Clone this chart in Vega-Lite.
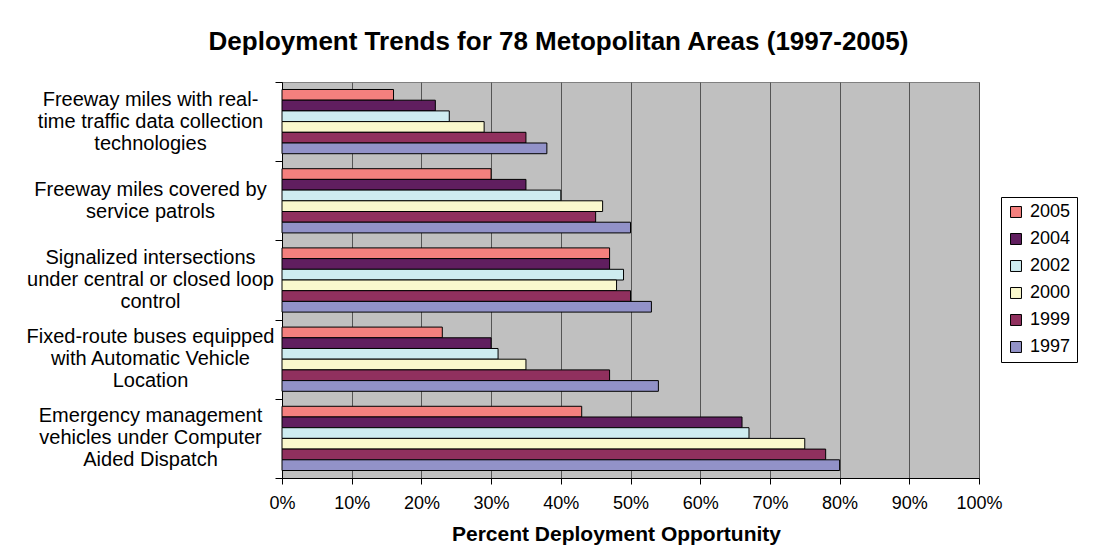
{
  "$schema": "https://vega.github.io/schema/vega-lite/v6.json",
  "width": 697,
  "height": 396,
  "autosize": {"type": "none"},
  "padding": {"left": 282, "top": 82, "right": 122, "bottom": 81},
  "background": "white",
  "title": {
    "text": "Deployment Trends for 78 Metopolitan Areas (1997-2005)",
    "font": "Liberation Sans",
    "fontSize": 26,
    "fontWeight": "bold",
    "color": "black",
    "anchor": "middle",
    "dx": -72,
    "offset": 27
  },
  "data": {
    "values": [
      {"category": "Freeway miles with real-time traffic data collection technologies", "year": "2005", "value": 16},
      {"category": "Freeway miles with real-time traffic data collection technologies", "year": "2004", "value": 22},
      {"category": "Freeway miles with real-time traffic data collection technologies", "year": "2002", "value": 24},
      {"category": "Freeway miles with real-time traffic data collection technologies", "year": "2000", "value": 29},
      {"category": "Freeway miles with real-time traffic data collection technologies", "year": "1999", "value": 35},
      {"category": "Freeway miles with real-time traffic data collection technologies", "year": "1997", "value": 38},
      {"category": "Freeway miles covered by service patrols", "year": "2005", "value": 30},
      {"category": "Freeway miles covered by service patrols", "year": "2004", "value": 35},
      {"category": "Freeway miles covered by service patrols", "year": "2002", "value": 40},
      {"category": "Freeway miles covered by service patrols", "year": "2000", "value": 46},
      {"category": "Freeway miles covered by service patrols", "year": "1999", "value": 45},
      {"category": "Freeway miles covered by service patrols", "year": "1997", "value": 50},
      {"category": "Signalized intersections under central or closed loop control", "year": "2005", "value": 47},
      {"category": "Signalized intersections under central or closed loop control", "year": "2004", "value": 47},
      {"category": "Signalized intersections under central or closed loop control", "year": "2002", "value": 49},
      {"category": "Signalized intersections under central or closed loop control", "year": "2000", "value": 48},
      {"category": "Signalized intersections under central or closed loop control", "year": "1999", "value": 50},
      {"category": "Signalized intersections under central or closed loop control", "year": "1997", "value": 53},
      {"category": "Fixed-route buses equipped with Automatic Vehicle Location", "year": "2005", "value": 23},
      {"category": "Fixed-route buses equipped with Automatic Vehicle Location", "year": "2004", "value": 30},
      {"category": "Fixed-route buses equipped with Automatic Vehicle Location", "year": "2002", "value": 31},
      {"category": "Fixed-route buses equipped with Automatic Vehicle Location", "year": "2000", "value": 35},
      {"category": "Fixed-route buses equipped with Automatic Vehicle Location", "year": "1999", "value": 47},
      {"category": "Fixed-route buses equipped with Automatic Vehicle Location", "year": "1997", "value": 54},
      {"category": "Emergency management vehicles under Computer Aided Dispatch", "year": "2005", "value": 43},
      {"category": "Emergency management vehicles under Computer Aided Dispatch", "year": "2004", "value": 66},
      {"category": "Emergency management vehicles under Computer Aided Dispatch", "year": "2002", "value": 67},
      {"category": "Emergency management vehicles under Computer Aided Dispatch", "year": "2000", "value": 75},
      {"category": "Emergency management vehicles under Computer Aided Dispatch", "year": "1999", "value": 78},
      {"category": "Emergency management vehicles under Computer Aided Dispatch", "year": "1997", "value": 80}
    ]
  },
  "layer": [
    {
      "mark": {"type": "bar", "opacity": 0},
      "encoding": {
        "y": {
          "field": "category",
          "type": "nominal",
          "sort": [
            "Freeway miles with real-time traffic data collection technologies",
            "Freeway miles covered by service patrols",
            "Signalized intersections under central or closed loop control",
            "Fixed-route buses equipped with Automatic Vehicle Location",
            "Emergency management vehicles under Computer Aided Dispatch"
          ],
          "scale": {"paddingInner": 0, "paddingOuter": 0},
          "axis": {
            "orient": "left",
            "title": null,
            "labels": false,
            "tickBand": "extent",
            "ticks": true,
            "tickSize": 7,
            "tickColor": "black",
            "domainColor": "black",
            "grid": false
          }
        },
        "x": {
          "field": "value",
          "type": "quantitative",
          "scale": {"domain": [0, 100]},
          "axis": {
            "title": "Percent Deployment Opportunity",
            "titleFont": "Liberation Sans",
            "titleFontSize": 21,
            "titleFontWeight": "bold",
            "titleColor": "black",
            "titlePadding": 11,
            "titleX": 334,
            "titleAlign": "center",
            "values": [0, 10, 20, 30, 40, 50, 60, 70, 80, 90, 100],
            "labelExpr": "datum.value + '%'",
            "labelFlush": false,
            "labelFont": "Liberation Sans",
            "labelFontSize": 18,
            "labelColor": "black",
            "labelPadding": 10,
            "tickSize": 6,
            "tickColor": "black",
            "domainColor": "black",
            "grid": true,
            "gridColor": "#555555",
            "gridWidth": 1
          }
        }
      }
    },
    {
      "mark": {"type": "bar", "stroke": "black", "strokeWidth": 1},
      "encoding": {
        "y": {
          "field": "category",
          "type": "nominal",
          "sort": [
            "Freeway miles with real-time traffic data collection technologies",
            "Freeway miles covered by service patrols",
            "Signalized intersections under central or closed loop control",
            "Fixed-route buses equipped with Automatic Vehicle Location",
            "Emergency management vehicles under Computer Aided Dispatch"
          ],
          "scale": {"paddingInner": 0, "paddingOuter": 0},
          "axis": {
            "orient": "left",
            "title": null,
            "ticks": false,
            "tickSize": 0,
            "domain": false,
            "grid": false,
            "labelAlign": "center",
            "labelBaseline": "middle",
            "labelPadding": 132,
            "labelOffset": {"condition": {"test": "datum.value == 'Freeway miles covered by service patrols'", "value": -11}, "value": -22},
            "labelFont": "Liberation Sans",
            "labelFontSize": 20,
            "labelLineHeight": 22,
            "labelColor": "black",
            "labelLimit": 0,
            "labelExpr": "datum.value == 'Freeway miles with real-time traffic data collection technologies' ? ['Freeway miles with real-', 'time traffic data collection', 'technologies'] : datum.value == 'Freeway miles covered by service patrols' ? ['Freeway miles covered by', 'service patrols'] : datum.value == 'Signalized intersections under central or closed loop control' ? ['Signalized intersections', 'under central or closed loop', 'control'] : datum.value == 'Fixed-route buses equipped with Automatic Vehicle Location' ? ['Fixed-route buses equipped', 'with Automatic Vehicle', 'Location'] : ['Emergency management', 'vehicles under Computer', 'Aided Dispatch']"
          }
        },
        "yOffset": {
          "field": "year",
          "type": "nominal",
          "sort": ["2005", "2004", "2002", "2000", "1999", "1997"],
          "scale": {"paddingInner": 0, "paddingOuter": 0.7}
        },
        "x": {
          "field": "value",
          "type": "quantitative",
          "scale": {"domain": [0, 100]},
          "axis": {
            "title": "Percent Deployment Opportunity",
            "titleFont": "Liberation Sans",
            "titleFontSize": 21,
            "titleFontWeight": "bold",
            "titleColor": "black",
            "titlePadding": 11,
            "titleX": 334,
            "titleAlign": "center",
            "values": [0, 10, 20, 30, 40, 50, 60, 70, 80, 90, 100],
            "labelExpr": "datum.value + '%'",
            "labelFlush": false,
            "labelFont": "Liberation Sans",
            "labelFontSize": 18,
            "labelColor": "black",
            "labelPadding": 10,
            "tickSize": 6,
            "tickColor": "black",
            "domainColor": "black",
            "grid": true,
            "gridColor": "#555555",
            "gridWidth": 1
          }
        },
        "color": {
          "field": "year",
          "type": "nominal",
          "sort": ["2005", "2004", "2002", "2000", "1999", "1997"],
          "scale": {
            "domain": ["2005", "2004", "2002", "2000", "1999", "1997"],
            "range": ["#F4807E", "#601E5F", "#CEECF0", "#FAF8CD", "#90305E", "#9292C8"]
          },
          "legend": {
            "title": null,
            "orient": "none",
            "legendX": 719,
            "legendY": 115,
            "strokeColor": "black",
            "fillColor": "white",
            "padding": 6,
            "rowPadding": 9,
            "symbolType": "square",
            "symbolSize": 120,
            "symbolStrokeColor": "black",
            "symbolStrokeWidth": 1,
            "symbolOpacity": 1,
            "labelFont": "Liberation Sans",
            "labelFontSize": 18,
            "labelColor": "black",
            "labelOffset": 5
          }
        }
      }
    }
  ],
  "resolve": {"axis": {"y": "independent"}},
  "config": {
    "view": {"fill": "#C0C0C0", "stroke": "#808080"}
  }
}
